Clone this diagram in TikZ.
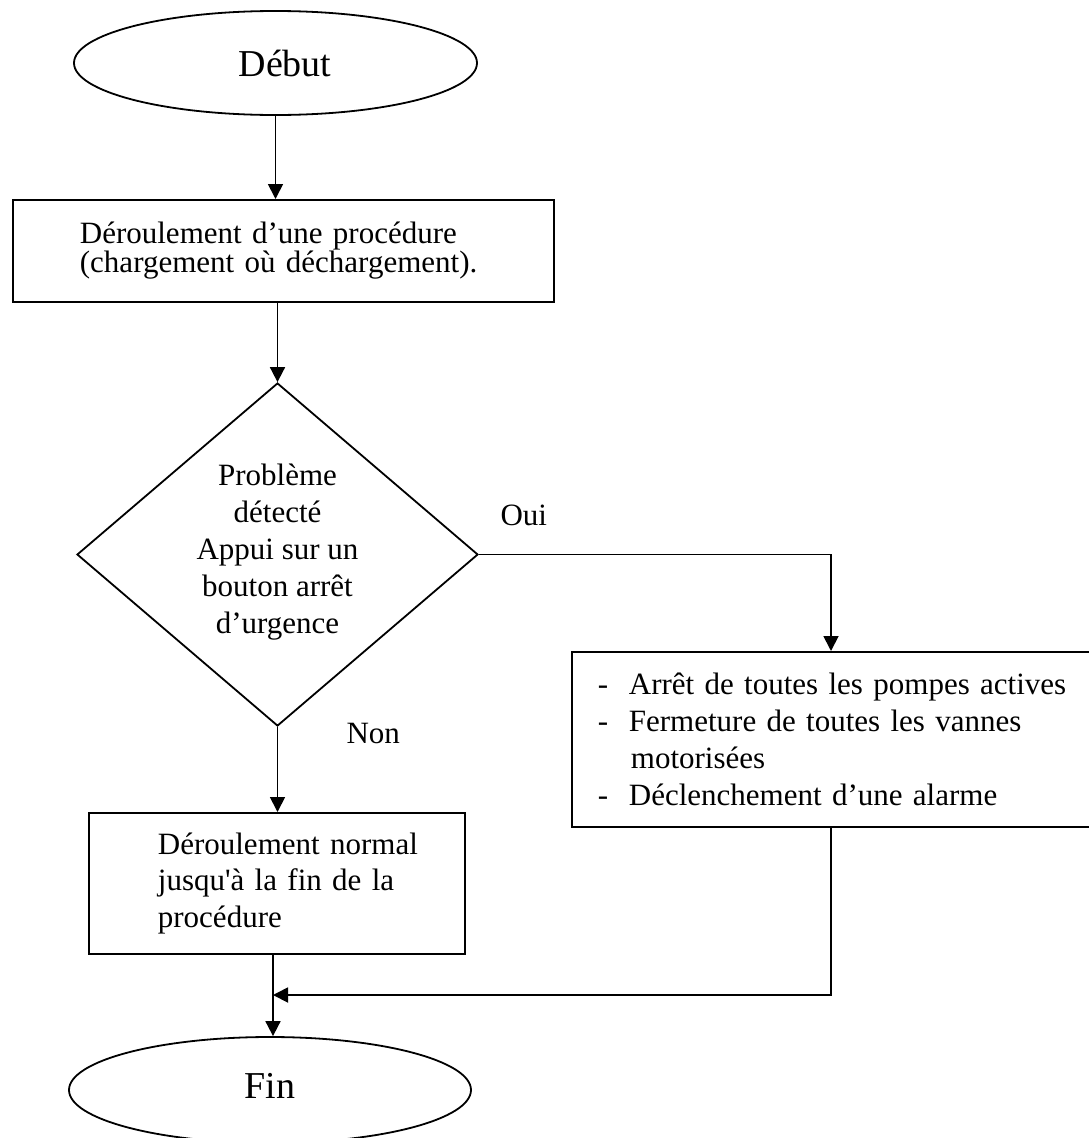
\documentclass[tikz,border=0pt]{standalone}
\usepackage{fontspec}
\setmainfont{Liberation Serif}[Ligatures=TeXOff]
\usetikzlibrary{shapes.geometric,arrows.meta,calc}
\begin{document}
\begin{tikzpicture}[x=1pt,y=-1pt,
  every node/.style={font=\fontsize{31}{36.7}\selectfont},
  flow/.style={line width=1.8pt},
  arr/.style={flow,-{Triangle[length=15pt,width=15pt]}},
  terminal/.style={draw,ellipse,line width=1.8pt,inner sep=0pt,font=\fontsize{38}{44}\selectfont},
  stepbox/.style={draw,rectangle,line width=1.8pt,align=left,anchor=north west,inner ysep=0pt},
  decision/.style={draw,diamond,line width=1.8pt,inner sep=0pt,align=center,shape aspect=1.17},
  tag/.style={anchor=base west}
]
\useasboundingbox (0,0) rectangle (1088,1138);

% start / end
\node[terminal, minimum width=403pt, minimum height=104pt] (debut) at (275.5,63) {\hspace*{19pt}Début};
\node[terminal, minimum width=402pt, minimum height=106pt] (fin) at (270,1090) {Fin\vphantom{g}};

% process boxes
\node[stepbox, minimum width=541pt, minimum height=102pt, inner xsep=67pt, text width=407pt,
      font=\fontsize{31}{28}\selectfont] (box1) at (12,199)
  {\mbox{Déroulement d’une procédure}\\\mbox{(chargement où déchargement).}\par\vspace*{8.6pt}};

\node[stepbox, minimum width=519pt, minimum height=175pt, inner xsep=26pt, text width=467pt] (box2) at (571,651)
  {\mbox{\makebox[31pt][l]{-}Arrêt de toutes les pompes actives}\\
   \mbox{\makebox[31pt][l]{-}Fermeture de toutes les vannes}\\
   \mbox{\hspace*{33pt}motorisées}\\
   \mbox{\makebox[31pt][l]{-}Déclenchement d’une alarme}\par\vspace*{4pt}};

\node[stepbox, minimum width=376pt, minimum height=141pt, inner xsep=69pt, text width=238pt] (box3) at (88,812)
  {\mbox{Déroulement normal}\\\mbox{jusqu'à la fin de la}\\\mbox{procédure}\par\vspace*{6.4pt}};

% decision
\node[decision, minimum width=401pt, minimum height=343pt, font=\fontsize{31}{37}\selectfont] (dec) at (277.5,554.5)
  {Problème\\détecté\\Appui sur un\\bouton arrêt\\d’urgence\par\vspace*{5.4pt}};

% branch labels
\node[tag] (oui) at (497,525) {Oui};
\node[tag] (non) at (343,743) {Non};

% connectors
\coordinate (yescol) at (831,0);
\coordinate (merge) at (273,995);

\draw[arr] (debut.south) -- (debut.south |- box1.north);
\draw[arr] (dec.north |- box1.south) -- (dec.north);
\draw[arr] (dec.east) -- (yescol |- dec.east) -- (yescol |- box2.north);
\draw[arr] (dec.south) -- (dec.south |- box3.north);
\draw[arr] (yescol |- box2.south) -- (yescol |- merge) -- (merge);
\draw[arr] (merge |- box3.south) -- (merge |- fin.north);
\end{tikzpicture}
\end{document}
